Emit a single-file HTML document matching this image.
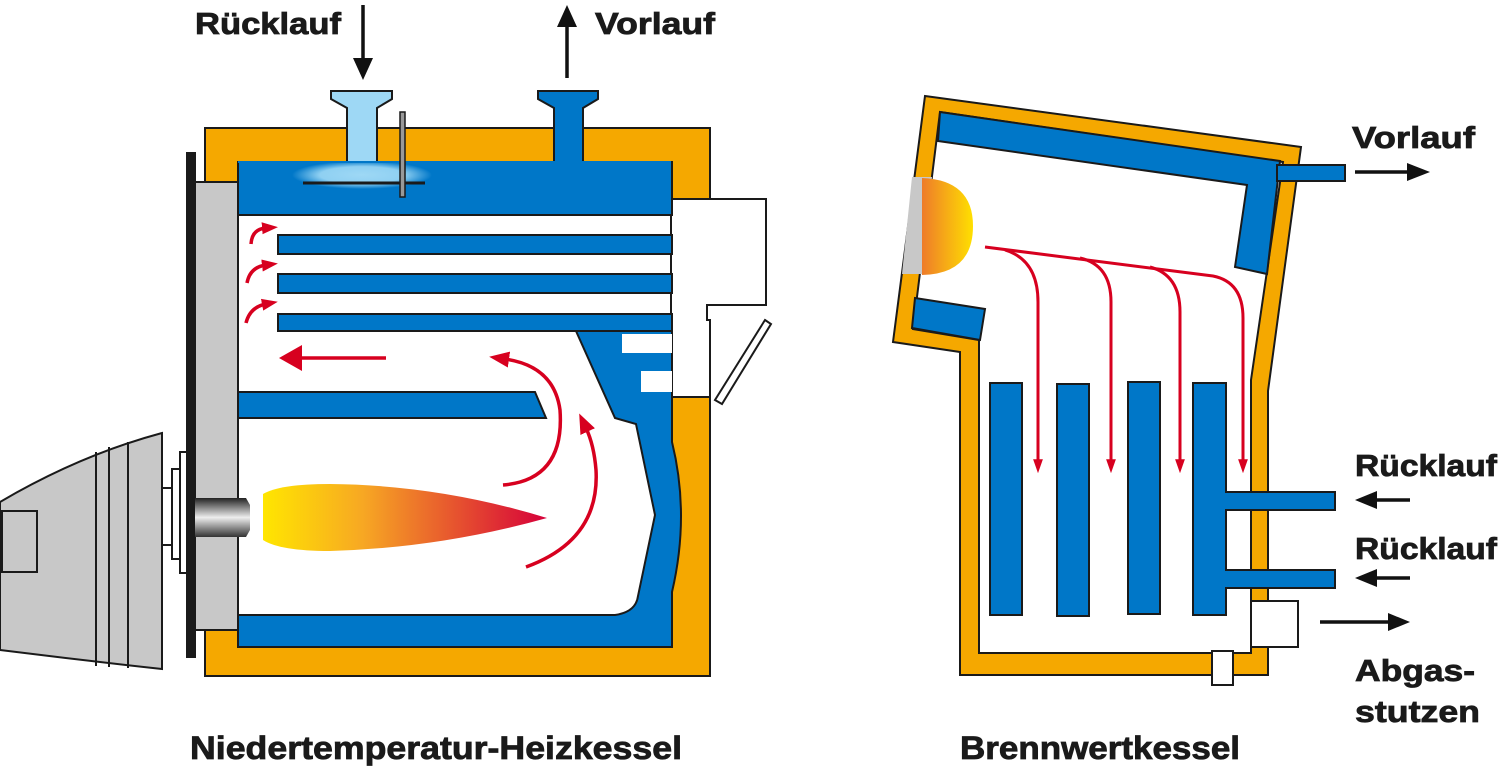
<!DOCTYPE html>
<html><head><meta charset="utf-8"><style>html,body{margin:0;padding:0;background:#fff}svg{display:block}</style></head><body>
<svg width="1500" height="771" viewBox="0 0 1500 771" xmlns="http://www.w3.org/2000/svg" font-family="Liberation Sans, Arial, sans-serif" font-weight="bold">
<defs>
<linearGradient id="fl" x1="0" x2="1" y1="0" y2="0"><stop offset="0" stop-color="#ffe600"/><stop offset="0.35" stop-color="#f7a823"/><stop offset="1" stop-color="#d6003a"/></linearGradient>
<linearGradient id="fl2" x1="0" x2="1"><stop offset="0" stop-color="#ee7b2a"/><stop offset="1" stop-color="#ffe000"/></linearGradient>
<linearGradient id="noz" x1="0" x2="0" y1="0" y2="1"><stop offset="0" stop-color="#222"/><stop offset="0.5" stop-color="#eee"/><stop offset="1" stop-color="#333"/></linearGradient>
<radialGradient id="lb" cx="0.5" cy="0.5" r="0.5"><stop offset="0" stop-color="#9ed8f5"/><stop offset="0.6" stop-color="#8fd0f2"/><stop offset="1" stop-color="#0077c8"/></radialGradient>
<marker id="ah" markerWidth="20" markerHeight="20" refX="4" refY="10" orient="auto" markerUnits="userSpaceOnUse" viewBox="0 0 20 20"><path d="M0,2 L20,10 L0,18 z" fill="#d7001f"/></marker>
<marker id="ahs" markerWidth="16" markerHeight="16" refX="4" refY="8" orient="auto" markerUnits="userSpaceOnUse" viewBox="0 0 16 16"><path d="M0,2 L16,8 L0,14 z" fill="#d7001f"/></marker>
<marker id="ahr" markerWidth="14" markerHeight="20" refX="4" refY="10" orient="auto" markerUnits="userSpaceOnUse" viewBox="0 0 20 20"><path d="M0,3 L20,10 L0,17 z" fill="#d7001f"/></marker>
</defs>
<g stroke="#1a1a1a" stroke-width="2">
<!-- LEFT BOILER -->
<path d="M205,128 H710 V199 H671 V397 H710 V676 H205 Z" fill="#f5a800"/>
<rect x="238" y="162" width="434" height="485" fill="#fff" stroke="none"/>
<path d="M671,199 H766 V305 H707 V320 H710 V397 H671 Z" fill="#fff"/>
<path d="M765,320 L771,324 L722,404 L715,400 Z" fill="#fff"/>
<rect x="238" y="162" width="434" height="53" fill="#0077c8"/>
<ellipse cx="362" cy="175" rx="70" ry="14" fill="url(#lb)" stroke="none"/>
<path d="M331,91 H392 V99 L377,108 V162 H347 V108 L331,99 Z" fill="#9ed8f5"/>
<path d="M538,91 H598 V99 L583,108 V162 H554 V108 L538,99 Z" fill="#0077c8"/>
<rect x="238" y="161" width="433" height="2" fill="#0077c8" stroke="none"/>
<line x1="303" y1="183" x2="425" y2="183" stroke-width="3"/>
<rect x="400" y="112" width="5" height="85" fill="#999" stroke-width="1.5"/>
<rect x="278" y="235" width="394" height="19" fill="#0077c8"/>
<rect x="278" y="274" width="394" height="19" fill="#0077c8"/>
<rect x="278" y="314" width="394" height="17" fill="#0077c8"/>
<path d="M238,392 H535 L546,418 H238 Z" fill="#0077c8"/>
<path d="M576,331 H672 V442 Q690,515 672,592 V647 H238 V615 H615 Q636,612 638,596 L655,515 L636,424 L615,418 Z" fill="#0077c8"/>
<rect x="622" y="334" width="50" height="19" fill="#fff" stroke="none"/>
<rect x="641" y="371" width="31" height="21" fill="#fff" stroke="none"/>
<rect x="195" y="182" width="43" height="448" fill="#c8c8c8"/>
<rect x="187" y="153" width="8" height="504" fill="#1a1a1a"/>
<!-- burner -->
<path d="M0,502 Q80,455 162,433 V669 Q80,660 0,650 Z" fill="#c8c8c8"/>
<line x1="96" y1="452" x2="96" y2="666"/><line x1="109" y1="447" x2="109" y2="667"/><line x1="128" y1="442" x2="128" y2="668"/>
<rect x="2" y="511" width="35" height="61" fill="#c8c8c8"/>
<rect x="162" y="488" width="10" height="57" fill="#fff"/>
<rect x="172" y="469" width="8" height="90" fill="#fff"/>
<rect x="180" y="452" width="7" height="121" fill="#fff"/>
<path d="M195,498 H246 L250,505 V530 L246,537 H195 Z" fill="url(#noz)" stroke="none"/>
</g>
<path d="M263,494 Q280,484 330,484 Q440,485 547,518 Q440,548 330,551 Q280,551 263,540 Z" fill="url(#fl)"/>
<g fill="none" stroke="#d7001f" stroke-width="3.5">
<path d="M251,244 Q252,229 266,228" marker-end="url(#ahs)"/>
<path d="M247,283 Q250,267 266,265" marker-end="url(#ahs)"/>
<path d="M246,323 Q250,307 266,304" marker-end="url(#ahs)"/>
<path d="M386,358 H300"/>
<path d="M503,485 Q565,480 560,410 Q554,366 505,359" marker-end="url(#ah)"/>
<path d="M526,567 Q600,540 596,470 Q594,445 586,428" marker-end="url(#ah)"/>
</g>
<path d="M279,358 L302,345 L302,371 Z" fill="#d7001f"/>
<!-- RIGHT BOILER -->
<g stroke="#1a1a1a" stroke-width="2">
<path d="M925,96 L1301,147 L1268,391 V675 H960 V352 L893,342 Z" fill="#f5a800"/>
<path d="M940,112 L1283,162 L1251,380 V653 H979 V340 L913,329 Z" fill="#fff"/>
<path d="M940,112 L1280,161 L1267,274 L1235,267 L1247,185 L938,141 Z" fill="#0077c8"/>
<rect x="1277" y="165" width="68" height="16" fill="#0077c8"/>
<path d="M915,298 L985,309 L980,340 L912,328 Z" fill="#0077c8"/>
<path d="M912,177 L932,177 L922,274 L902,274 Z" fill="#c8c8c8" stroke="none"/>
<rect x="990" y="383" width="32" height="232" fill="#0077c8"/>
<rect x="1057" y="384" width="32" height="232" fill="#0077c8"/>
<rect x="1128" y="382" width="32" height="232" fill="#0077c8"/>
<path d="M1193,383 H1226 V492 H1335 V510 H1226 V570 H1335 V588 H1226 V615 H1193 Z" fill="#0077c8"/>
<rect x="1251" y="601" width="47" height="46" fill="#fff"/>
<rect x="1212" y="651" width="21" height="34" fill="#fff"/>
</g>
<path d="M922,178 Q973,180 973,226 Q973,274 922,275 Z" fill="url(#fl2)"/>
<g fill="none" stroke="#d7001f" stroke-width="3">
<path d="M985,247 L1213,276 Q1243,282 1243,318 V462" marker-end="url(#ahr)"/>
<path d="M1005,250 Q1038,260 1038,302 V462" marker-end="url(#ahr)"/>
<path d="M1080,258 Q1111,265 1111,302 V462" marker-end="url(#ahr)"/>
<path d="M1150,267 Q1180,275 1180,312 V462" marker-end="url(#ahr)"/>
</g>
<!-- black arrows -->
<g stroke="#111" stroke-width="3.5" fill="#111">
<line x1="363" y1="5" x2="363" y2="62"/><path d="M353,58 L363,80 L373,58 Z" stroke="none"/>
<line x1="567" y1="78" x2="567" y2="24"/><path d="M557,27 L567,5 L577,27 Z" stroke="none"/>
<line x1="1355" y1="172" x2="1410" y2="172"/><path d="M1407,163 L1430,172 L1407,181 Z" stroke="none"/>
<line x1="1410" y1="500" x2="1375" y2="500"/><path d="M1377,491 L1355,500 L1377,509 Z" stroke="none"/>
<line x1="1410" y1="578" x2="1375" y2="578"/><path d="M1377,569 L1355,578 L1377,587 Z" stroke="none"/>
<line x1="1320" y1="622" x2="1390" y2="622"/><path d="M1388,613 L1410,622 L1388,631 Z" stroke="none"/>
</g>
<g fill="#1a1a1a" font-size="31" stroke="#1a1a1a" stroke-width="0.8">
<text x="195" y="34" textLength="146" lengthAdjust="spacingAndGlyphs">Rücklauf</text>
<text x="595" y="34" textLength="120" lengthAdjust="spacingAndGlyphs">Vorlauf</text>
<text x="1352" y="148" textLength="123" lengthAdjust="spacingAndGlyphs">Vorlauf</text>
<text x="1355" y="476" textLength="142" lengthAdjust="spacingAndGlyphs">Rücklauf</text>
<text x="1355" y="559" textLength="142" lengthAdjust="spacingAndGlyphs">Rücklauf</text>
<text x="1355" y="681" textLength="120" lengthAdjust="spacingAndGlyphs">Abgas-</text>
<text x="1355" y="722" textLength="125" lengthAdjust="spacingAndGlyphs">stutzen</text>
<text x="190" y="759" font-size="32" textLength="492" lengthAdjust="spacingAndGlyphs">Niedertemperatur-Heizkessel</text>
<text x="960" y="759" font-size="32" textLength="280" lengthAdjust="spacingAndGlyphs">Brennwertkessel</text>
</g>
</svg>
</body></html>
